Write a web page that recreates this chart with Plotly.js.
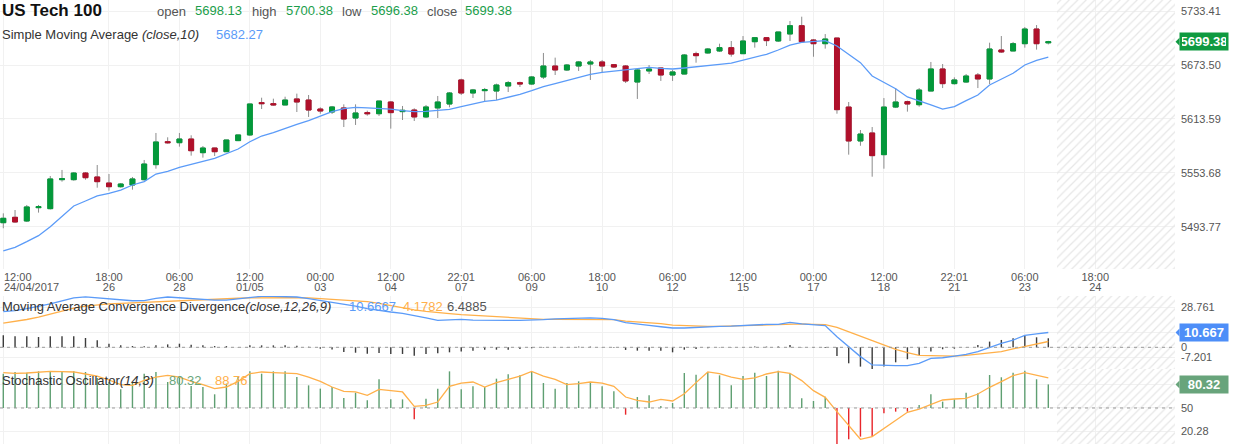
<!DOCTYPE html>
<html>
<head>
<meta charset="utf-8">
<script src="https://cdn.plot.ly/plotly-3.0.1.min.js"></script>
<style>
  html, body { margin: 0; padding: 0; background: #fff; }
  #chart { width: 1240px; height: 444px; }
</style>
</head>
<body>
<div id="chart"></div>
<script>
// time axis: candle index of each tick and its two label rows
var tickPos = [0, 9, 15, 21, 27, 33, 39, 45, 51, 57, 63, 69, 75, 81, 87, 93];
var timeLabels = ['12:00', '18:00', '06:00', '12:00', '00:00', '12:00', '22:01', '06:00', '18:00', '06:00', '12:00', '00:00', '12:00', '22:01', '06:00', '18:00'];
var dateLabels = ['24/04/2017', '26', '28', '01/05', '03', '04', '07', '09', '10', '12', '15', '17', '18', '21', '23', '24'];

// US Tech 100 candles
var openV = [5498.3, 5504.3, 5500.2, 5515.0, 5513.9, 5546.1, 5546.1, 5553.5, 5549.1, 5542.4,
  5538.3, 5540.2, 5546.1, 5562.8, 5588.3, 5587.2, 5591.3, 5576.1, 5581.3, 5577.2,
  5589.5, 5595.8, 5631.7, 5630.6, 5629.1, 5635.8, 5634.6, 5624.6, 5621.3, 5625.8,
  5614.6, 5620.6, 5619.4, 5632.4, 5621.7, 5623.5, 5615.8, 5625.8, 5630.2, 5656.9,
  5642.4, 5645.0, 5644.6, 5650.2, 5653.9, 5652.4, 5660.2, 5672.4, 5668.0, 5672.4,
  5674.6, 5676.9, 5673.9, 5672.4, 5654.6, 5666.9, 5670.2, 5662.4, 5663.5, 5686.1,
  5686.9, 5689.1, 5692.8, 5686.1, 5699.4, 5703.9, 5700.2, 5708.0, 5717.2, 5701.3,
  5697.2, 5703.5, 5626.8, 5589.1, 5598.0, 5573.9, 5626.8, 5632.8, 5629.4, 5644.6,
  5669.1, 5652.8, 5654.6, 5662.4, 5658.0, 5690.2, 5689.1, 5697.2, 5713.5, 5698.13];
var highV = [5508.7, 5512.4, 5518.0, 5518.0, 5550.2, 5556.9, 5554.6, 5554.6, 5562.4, 5552.4,
  5542.4, 5549.1, 5568.0, 5598.0, 5593.2, 5598.0, 5595.4, 5583.5, 5581.5, 5590.2,
  5596.0, 5630.5, 5637.2, 5636.1, 5638.3, 5641.7, 5640.2, 5626.5, 5628.0, 5629.8,
  5629.8, 5622.8, 5633.5, 5633.5, 5628.0, 5625.4, 5629.1, 5639.1, 5643.5, 5658.3,
  5646.9, 5648.0, 5652.8, 5655.7, 5655.0, 5661.3, 5686.9, 5681.7, 5674.6, 5678.0,
  5679.1, 5679.1, 5674.6, 5673.5, 5669.1, 5673.5, 5670.2, 5668.0, 5685.7, 5688.3,
  5692.4, 5697.2, 5700.2, 5705.7, 5704.6, 5704.6, 5710.2, 5722.4, 5727.2, 5702.4,
  5707.9, 5703.5, 5632.4, 5601.3, 5604.6, 5636.8, 5647.9, 5633.9, 5647.9, 5676.9,
  5674.6, 5659.8, 5663.5, 5664.6, 5698.3, 5705.7, 5699.1, 5715.7, 5717.9, 5700.38];
var lowV = [5492.1, 5498.3, 5499.1, 5509.5, 5513.0, 5543.9, 5545.0, 5546.1, 5537.2, 5533.9,
  5537.2, 5535.0, 5545.0, 5558.3, 5586.1, 5582.8, 5572.8, 5570.6, 5572.4, 5577.0,
  5589.0, 5594.7, 5624.6, 5628.3, 5629.0, 5621.3, 5615.8, 5619.4, 5619.1, 5604.6,
  5606.9, 5617.2, 5616.9, 5602.8, 5612.4, 5611.3, 5614.6, 5614.6, 5626.5, 5640.2,
  5636.9, 5633.2, 5634.6, 5643.5, 5649.1, 5651.3, 5658.0, 5662.4, 5666.9, 5666.9,
  5656.9, 5665.0, 5670.2, 5653.5, 5635.8, 5663.5, 5655.8, 5655.8, 5663.3, 5676.1,
  5686.1, 5688.0, 5682.8, 5686.1, 5692.8, 5694.6, 5699.1, 5700.2, 5698.5, 5682.7,
  5691.7, 5619.4, 5573.9, 5583.8, 5549.4, 5558.3, 5625.7, 5621.7, 5627.2, 5644.6,
  5647.9, 5651.7, 5653.9, 5647.9, 5652.4, 5686.9, 5689.0, 5692.8, 5690.6, 5696.38];
var closeV = [5503.2, 5499.1, 5515.8, 5516.1, 5546.9, 5547.2, 5553.5, 5548.3, 5543.9, 5538.3,
  5541.3, 5546.9, 5563.5, 5588.0, 5587.2, 5591.3, 5578.3, 5581.3, 5577.2, 5590.2,
  5595.8, 5630.2, 5630.6, 5629.1, 5634.6, 5632.4, 5623.5, 5622.4, 5626.9, 5613.5,
  5620.2, 5619.4, 5633.5, 5620.6, 5623.2, 5615.8, 5626.9, 5632.4, 5642.4, 5642.4,
  5645.8, 5646.1, 5651.3, 5653.9, 5652.4, 5660.2, 5672.4, 5668.0, 5673.5, 5676.9,
  5676.9, 5672.4, 5671.3, 5655.8, 5668.0, 5669.1, 5662.4, 5665.8, 5684.6, 5683.9,
  5691.3, 5692.8, 5685.7, 5700.2, 5703.9, 5700.6, 5710.2, 5717.2, 5699.4, 5697.2,
  5702.4, 5623.9, 5589.1, 5596.8, 5572.8, 5626.8, 5632.4, 5630.2, 5645.7, 5669.1,
  5652.8, 5656.9, 5661.3, 5658.0, 5691.3, 5688.0, 5697.2, 5713.5, 5697.2, 5699.38];

// Simple Moving Average (close,10)
var sma10 = [5466.9, 5470.9, 5477.2, 5483.9, 5493.9, 5505.0, 5516.9, 5522.4, 5528.0, 5530.9,
  5534.6, 5540.2, 5543.9, 5552.4, 5555.4, 5559.8, 5563.5, 5566.5, 5569.8, 5574.6,
  5580.2, 5588.3, 5594.6, 5598.3, 5603.2, 5607.6, 5611.7, 5616.9, 5621.7, 5625.0,
  5626.5, 5625.8, 5625.4, 5624.6, 5622.8, 5621.7, 5622.0, 5622.8, 5624.3, 5627.2,
  5630.2, 5633.2, 5634.6, 5637.6, 5640.9, 5645.0, 5649.5, 5652.8, 5656.1, 5659.5,
  5663.2, 5665.4, 5666.9, 5667.6, 5669.5, 5670.9, 5669.8, 5669.1, 5670.2, 5671.8,
  5672.8, 5674.3, 5675.7, 5679.1, 5682.0, 5685.4, 5690.2, 5695.7, 5698.6, 5699.8,
  5700.6, 5694.6, 5685.4, 5676.1, 5661.3, 5654.6, 5647.2, 5638.0, 5633.2, 5629.1,
  5624.6, 5627.2, 5633.9, 5640.2, 5651.3, 5658.0, 5664.3, 5673.5, 5678.7, 5682.27];

// MACD (close,12,26,9)
var macdLine = [25.6, 26.4, 27.8, 29.3, 31.2, 33.4, 35.5, 36.3, 35.6, 34.6,
  33.8, 33.5, 33.6, 35.2, 36.2, 35.6, 34.6, 34.0, 33.9, 34.0,
  35.0, 36.2, 36.7, 36.7, 36.7, 36.2, 35.0, 33.8, 32.6, 31.4,
  29.7, 27.8, 26.4, 25.4, 24.4, 23.0, 21.1, 19.4, 19.9, 20.1,
  19.6, 19.4, 19.4, 19.4, 19.4, 19.4, 19.9, 20.4, 20.8, 21.1,
  21.1, 20.8, 19.9, 17.7, 16.5, 15.8, 14.8, 13.9, 13.9, 14.4,
  14.8, 15.1, 15.3, 15.8, 16.0, 16.5, 16.5, 17.9, 16.8, 16.0,
  15.6, 7.6, 0.5, -6.7, -12.7, -13.2, -13.2, -13.2, -11.5, -7.9,
  -7.5, -6.3, -5.1, -3.1, 0.0, 2.9, 5.2, 8.6, 9.6, 10.6667];
var macdSignal = [17.4, 18.6, 20.0, 21.7, 23.7, 26.0, 28.2, 29.6, 30.6, 31.2,
  31.6, 32.0, 32.4, 32.9, 33.4, 33.8, 34.2, 34.5, 34.8, 35.0,
  35.3, 35.5, 35.7, 35.8, 35.9, 35.8, 35.5, 35.0, 34.5, 34.0,
  33.6, 32.8, 31.6, 30.0, 28.4, 27.0, 25.9, 24.9, 24.2, 23.5,
  23.0, 22.3, 21.6, 21.1, 20.6, 20.4, 20.1, 20.1, 20.1, 20.1,
  20.4, 20.4, 19.9, 18.9, 18.4, 17.7, 17.0, 16.0, 15.6, 15.3,
  15.1, 15.1, 15.1, 15.6, 15.8, 16.0, 16.3, 16.8, 16.8, 16.5,
  16.3, 14.4, 11.2, 8.1, 4.8, 1.7, -1.5, -3.9, -5.8, -6.0,
  -6.3, -6.3, -5.8, -4.8, -4.3, -3.1, -1.2, 0.5, 2.4, 4.1782];
var macdHist = [8.6, 7.9, 7.9, 7.4, 7.9, 7.9, 7.9, 6.7, 5.0, 2.6,
  1.4, 0.9, 0.7, 1.4, 2.1, 2.6, 1.9, 1.4, 0.9, 0.9,
  0.2, 1.4, 1.4, 1.4, 1.4, 1.2, 0.4, -1.0, -1.5, -3.4,
  -3.9, -4.6, -4.1, -4.8, -4.8, -6.0, -4.8, -4.3, -3.6, -3.1,
  -2.4, -1.7, -1.7, -1.7, -1.2, -0.7, -0.3, 0.2, 0.3, 0.5,
  0.5, 0.3, -0.3, -1.9, -2.4, -2.4, -2.4, -3.6, -1.7, -1.2,
  -0.7, -0.2, 0.2, 0.3, 0.5, 0.5, 0.5, 1.7, 0.2, -0.3,
  -0.5, -6.2, -11.5, -13.9, -15.8, -13.9, -10.8, -8.6, -5.5, -3.1,
  -1.4, -1.0, 0.3, 1.7, 4.1, 5.3, 6.5, 8.2, 7.2, 6.4885];

// Stochastic Oscillator (14,3)
var stochK = [94.1, 96.3, 95.4, 97.1, 97.1, 96.3, 97.1, 96.3, 88.6, 83.4,
  74.0, 83.4, 94.1, 96.3, 83.4, 89.8, 78.3, 77.0, 67.6, 81.3,
  89.8, 97.1, 94.1, 97.1, 97.1, 89.8, 79.1, 74.9, 77.0, 62.9,
  69.7, 59.9, 86.8, 61.1, 61.1, 35.4, 62.0, 74.9, 97.1, 74.0,
  77.8, 77.0, 87.7, 93.3, 92.0, 96.3, 82.1, 74.9, 82.1, 84.3,
  83.4, 77.8, 71.4, 41.4, 64.1, 66.3, 52.6, 56.4, 95.0, 92.8,
  96.3, 92.0, 79.1, 91.1, 95.4, 91.2, 98.0, 94.6, 62.5, 59.0,
  64.6, 1.0, 9.8, 13.2, 13.2, 43.2, 45.3, 45.3, 53.9, 67.6,
  58.2, 61.2, 69.7, 68.9, 92.4, 89.5, 95.4, 98.0, 86.9, 80.32];
var stochD = [95.4, 94.6, 95.0, 96.3, 97.1, 96.7, 96.3, 93.7, 91.1, 86.0,
  80.0, 79.1, 85.6, 89.8, 92.0, 89.8, 84.3, 80.0, 74.9, 77.0,
  84.3, 94.1, 96.3, 95.4, 95.0, 94.1, 89.8, 84.3, 77.0, 71.4,
  70.6, 66.3, 74.0, 72.3, 70.6, 52.1, 53.4, 57.7, 77.8, 82.1,
  83.4, 77.0, 82.6, 86.8, 91.1, 97.1, 91.1, 86.8, 80.0, 81.3,
  83.4, 82.1, 77.8, 64.1, 59.9, 57.7, 61.1, 59.0, 68.4, 82.6,
  96.3, 94.1, 89.8, 86.8, 88.6, 93.7, 96.7, 94.6, 85.2, 72.3,
  63.7, 45.3, 26.9, 9.8, 13.2, 23.9, 34.6, 44.5, 48.7, 54.7,
  60.3, 61.6, 62.5, 68.0, 76.6, 83.9, 91.6, 95.4, 92.4, 88.76];

var priceTicks = [5493.77, 5553.68, 5613.59, 5673.50, 5733.41];
var macdTicks = [28.761, 10.667, 0, -7.201];
var stochTicks = [80.32, 50, 20.28];

var idx = closeV.map(function (v, i) { return i; });

var xRange = [-0.281, 99.79];
var priceRange = [5446.85, 5745.74];
var macdRange = [-15.61, 36.91];
var stochRange = [3.73, 100.13];
var priceDom = [0.39414, 1], macdDom = [0.16892, 0.33333], stochDom = [0, 0.16892];

var green = '#03993a', red = '#b0102b', wick = '#8c8c8c';
var blue = '#5b9bf8', orange = '#ffb04a', stochGreen = '#5f9f72';
var fontFam = '"Liberation Sans", Arial, sans-serif';

// body only: wick cut at open/close
var bodyHigh = openV.map(function (o, i) { return Math.max(o, closeV[i]); });
var bodyLow = openV.map(function (o, i) { return Math.min(o, closeV[i]); });

// shaded future area right of last candle
var futStart = idx.length - 1 + 0.74;
var futX = [(futStart + xRange[1]) / 2];
var futW = [xRange[1] - futStart];
var hatch = { shape: '/', fgcolor: '#e6e6e6', bgcolor: 'rgba(0,0,0,0)', size: 6, solidity: 0.2 };

function hatchBar(ax, range) {
    return {
        type: 'bar', x: futX, width: futW, base: [range[0]], y: [range[1] - range[0]],
        xaxis: ax[0], yaxis: ax[1], marker: { color: 'rgba(0,0,0,0)', pattern: hatch, line: { width: 0 } },
        hoverinfo: 'skip'
    };
}

var data = [
    hatchBar(['x', 'y'], priceRange),
    hatchBar(['x2', 'y2'], macdRange),
    hatchBar(['x3', 'y3'], stochRange),
    {
        type: 'candlestick', x: idx, open: openV, high: highV, low: lowV, close: closeV,
        xaxis: 'x', yaxis: 'y', whiskerwidth: 0,
        increasing: { line: { color: wick, width: 1 }, fillcolor: green },
        decreasing: { line: { color: wick, width: 1 }, fillcolor: red },
        hoverinfo: 'skip'
    },
    {
        type: 'candlestick', x: idx, open: openV, high: bodyHigh, low: bodyLow, close: closeV,
        xaxis: 'x', yaxis: 'y', whiskerwidth: 0,
        increasing: { line: { color: green, width: 1 }, fillcolor: green },
        decreasing: { line: { color: red, width: 1 }, fillcolor: red },
        hoverinfo: 'skip'
    },
    {
        type: 'scatter', mode: 'lines', x: idx, y: sma10, xaxis: 'x', yaxis: 'y',
        line: { color: blue, width: 1.3 }
    },
    {
        type: 'bar', x: idx, y: macdHist, xaxis: 'x2', yaxis: 'y2', width: 0.12,
        marker: { color: '#3c3c3c', line: { width: 0 } }
    },
    {
        type: 'scatter', mode: 'lines', x: idx, y: macdSignal, xaxis: 'x2', yaxis: 'y2',
        line: { color: orange, width: 1.3 }
    },
    {
        type: 'scatter', mode: 'lines', x: idx, y: macdLine, xaxis: 'x2', yaxis: 'y2',
        line: { color: blue, width: 1.3 }
    },
    {
        type: 'bar', x: idx, y: stochK.map(function (v) { return v - 50; }), base: 50,
        xaxis: 'x3', yaxis: 'y3', width: 0.12,
        marker: { color: stochK.map(function (v) { return v < 50 ? '#e8262b' : stochGreen; }), line: { width: 0 } }
    },
    {
        type: 'scatter', mode: 'lines', x: idx, y: stochD, xaxis: 'x3', yaxis: 'y3',
        line: { color: orange, width: 1.3 }
    }
];

var gridC = '#f1f1f1';
var tickFont = { family: fontFam, size: 11, color: '#555' };

// first tick is written at the left edge as annotations
function tickText(labels) {
    return labels.map(function (t, i) { return i === 0 ? '' : t; });
}

function xAxis(anchor, labels, side, standoff) {
    return {
        anchor: anchor, domain: [0, 1], range: xRange, fixedrange: true,
        tickvals: tickPos, ticktext: labels ? tickText(labels) : tickPos.map(function () { return ''; }),
        showticklabels: !!labels, side: side || 'bottom', ticks: '',
        tickfont: tickFont, ticklabelstandoff: standoff || 0,
        showgrid: true, gridcolor: gridC, gridwidth: 1, zeroline: false, showline: false,
        rangeslider: { visible: false }
    };
}

function yAxis(anchor, domain, range, vals, texts) {
    return {
        anchor: anchor, domain: domain, range: range, side: 'right', fixedrange: true,
        tickvals: vals, ticktext: texts, ticks: '', tickfont: tickFont, ticklabelstandoff: 5,
        showgrid: true, gridcolor: gridC, gridwidth: 1, zeroline: false, showline: false
    };
}

function px(x) { return x / 1175; }
function py(y) { return 1 - y / 444; }

function txt(x, y, text, color, size) {
    return {
        xref: 'paper', yref: 'paper', x: px(x), y: py(y), xanchor: 'left', yanchor: 'middle',
        text: text, showarrow: false, align: 'left',
        font: { family: fontFam, size: size || 13, color: color || '#333' }
    };
}

function tag(yref, val, label, color) {
    return {
        xref: 'paper', yref: yref, x: px(1179), y: val, xanchor: 'left', yanchor: 'middle',
        text: '<b>' + label + '</b>', showarrow: false, bgcolor: color, borderpad: 2,
        width: 44, height: 13, align: 'center',
        font: { family: fontFam, size: 13, color: '#fff' }
    };
}

// little pointer on the left of a value tag
function notch(yref, val, range, dom, color) {
    var unit = (range[1] - range[0]) / ((dom[1] - dom[0]) * 444);
    var h = 4 * unit;
    return {
        type: 'path', xref: 'paper', yref: yref, fillcolor: color, line: { width: 0 },
        path: 'M' + px(1175.5) + ',' + val + ' L' + px(1179.5) + ',' + (val + h) +
            ' L' + px(1179.5) + ',' + (val - h) + ' Z'
    };
}

var lastC = closeV[closeV.length - 1], lastM = macdLine[macdLine.length - 1], lastK = stochK[stochK.length - 1];

var annotations = [
    txt(0, 11, '<b>US Tech 100</b>', '#111', 17),
    txt(155, 12, 'open', '#555'), txt(193, 11, '5698.13', '#1b9e4b'),
    txt(250, 12, 'high', '#555'), txt(284, 11, '5700.38', '#1b9e4b'),
    txt(340, 12, 'low', '#555'), txt(369, 11, '5696.38', '#1b9e4b'),
    txt(425, 12, 'close', '#555'), txt(463, 11, '5699.38', '#1b9e4b'),
    txt(0, 34, 'Simple Moving Average <i>(close,10)</i>', '#333'),
    txt(214, 34, '5682.27', blue),
    txt(0, 306, 'Moving Average Convergence Divergence<i>(close,12,26,9)</i>', '#333'),
    txt(347, 306, '10.6667', blue), txt(401, 306, '4.1782', orange), txt(445, 306, '6.4885', '#555'),
    txt(0, 380, 'Stochastic Oscillator<i>(14,3)</i>', '#333'),
    txt(167, 380, '80.32', '#6aa67c'), txt(213, 380, '88.76', orange),
    txt(2, 277, timeLabels[0], '#555', 11), txt(2, 287, dateLabels[0], '#555', 11),
    tag('y', lastC, lastC.toFixed(2), '#0f9a40'),
    tag('y2', lastM, lastM.toFixed(3), '#4d8ef8'),
    tag('y3', lastK, lastK.toFixed(2), '#68a47b')
];

var dashLine = { color: '#9a9a9a', width: 1, dash: '3px,4px' };
var shapes = [
    { type: 'line', xref: 'paper', x0: 0, x1: 1, yref: 'y2', y0: 0, y1: 0, line: dashLine },
    { type: 'line', xref: 'paper', x0: 0, x1: 1, yref: 'y3', y0: 50, y1: 50, line: dashLine },
    notch('y', lastC, priceRange, priceDom, '#0f9a40'),
    notch('y2', lastM, macdRange, macdDom, '#4d8ef8'),
    notch('y3', lastK, stochRange, stochDom, '#68a47b')
];

var layout = {
    width: 1240, height: 444,
    margin: { l: 0, r: 65, t: 0, b: 0, pad: 0 },
    paper_bgcolor: '#fff', plot_bgcolor: '#fff',
    showlegend: false, barmode: 'overlay', boxgap: 0.4, hovermode: false,
    font: { family: fontFam },
    xaxis: xAxis('y', timeLabels, 'bottom', 0),
    xaxis2: xAxis('y2', dateLabels, 'top', 2),
    xaxis3: xAxis('y3'),
    yaxis: yAxis('x', priceDom, priceRange, priceTicks, priceTicks.map(function (v) { return v.toFixed(2); })),
    yaxis2: yAxis('x2', macdDom, macdRange, macdTicks, ['28.761', '', '0', '-7.201']),
    yaxis3: yAxis('x3', stochDom, stochRange, stochTicks, ['', '50', '20.28']),
    annotations: annotations,
    shapes: shapes
};

Plotly.newPlot('chart', data, layout, { staticPlot: true, displayModeBar: false });
</script>
</body>
</html>
